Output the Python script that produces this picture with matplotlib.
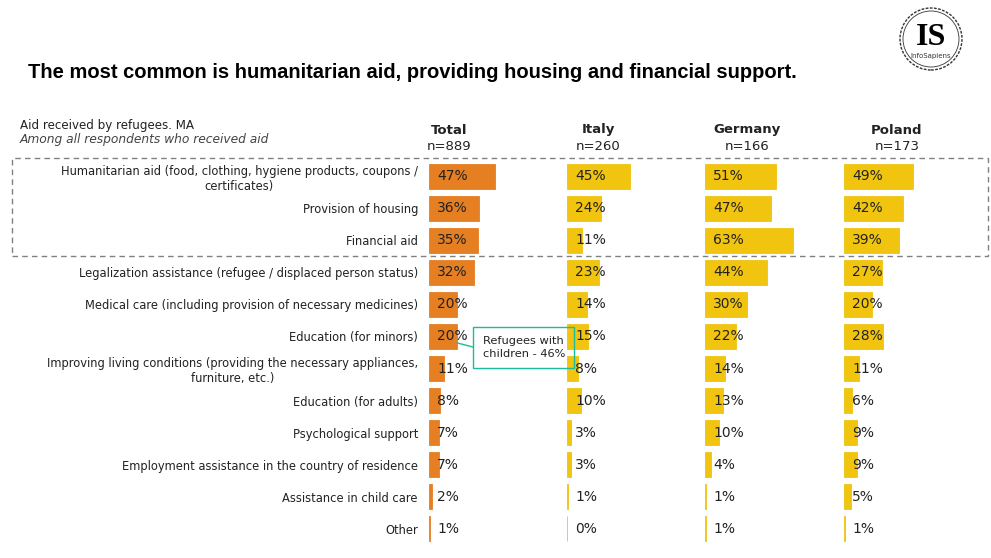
import matplotlib
matplotlib.use("Agg")
import matplotlib.pyplot as plt
from matplotlib.patches import Rectangle, Circle

categories = [
    "Humanitarian aid (food, clothing, hygiene products, coupons /\ncertificates)",
    "Provision of housing",
    "Financial aid",
    "Legalization assistance (refugee / displaced person status)",
    "Medical care (including provision of necessary medicines)",
    "Education (for minors)",
    "Improving living conditions (providing the necessary appliances,\nfurniture, etc.)",
    "Education (for adults)",
    "Psychological support",
    "Employment assistance in the country of residence",
    "Assistance in child care",
    "Other",
]
columns = ["Total", "Italy", "Germany", "Poland"]
sizes = ["n=889", "n=260", "n=166", "n=173"]
total = [47, 36, 35, 32, 20, 20, 11, 8, 7, 7, 2, 1]
italy = [45, 24, 11, 23, 14, 15, 8, 10, 3, 3, 1, 0]
germany = [51, 47, 63, 44, 30, 22, 14, 13, 10, 4, 1, 1]
poland = [49, 42, 39, 27, 20, 28, 11, 6, 9, 9, 5, 1]
series = [total, italy, germany, poland]

W, H = 991, 558
ORANGE = "#E67E22"
YELLOW = "#F1C40F"
TXT = "#222222"
TEAL = "#1ABC9C"

plt.rcParams["font.family"] = ["DejaVu Sans"]
fig = plt.figure(figsize=(W / 100, H / 100), dpi=100)

# column layout in pixels: bar start x, header center x
bar_left = [429, 567, 705, 844]
head_x = [449, 598, 747, 897]
xmax = 95  # 1.4 px per percent
top_px, bot_px = 160, 545

axes = []
for i, vals in enumerate(series):
    ax = fig.add_axes([bar_left[i] / W, 1 - bot_px / H, 1.4 * xmax / W, (bot_px - top_px) / H])
    color = ORANGE if i == 0 else YELLOW
    ax.barh(range(len(vals)), vals, height=0.78, color=color, edgecolor=color, linewidth=0.6)
    for j, v in enumerate(vals):
        ax.text(5.7, j, f"{v}%", va="center", ha="left", fontsize=10, color=TXT)
    ax.set_xlim(0, xmax)
    ax.set_ylim(len(vals) - 0.5, -0.5)
    for s in ax.spines.values():
        s.set_visible(False)
    ax.set_xticks([])
    ax.set_yticks([])
    ax.patch.set_alpha(0)
    axes.append(ax)
    fig.text(head_x[i] / W, 1 - 130 / H, columns[i], ha="center", va="center",
             fontsize=9.5, fontweight="bold", color=TXT)
    fig.text(head_x[i] / W, 1 - 146 / H, sizes[i], ha="center", va="center",
             fontsize=9.5, color=TXT)

ax0 = axes[0]
ax0.set_yticks(range(len(categories)))
ax0.set_yticklabels(categories, fontsize=8.3, color=TXT)
for lab in ax0.get_yticklabels():
    lab.set_multialignment("center")
ax0.tick_params(axis="y", length=0, pad=8)

# title and subtitle
fig.text(28 / W, 1 - 72 / H, "The most common is humanitarian aid, providing housing and financial support.",
         ha="left", va="center", fontsize=14.5, fontweight="bold", family="Liberation Sans", color="black")
fig.text(20 / W, 1 - 125 / H, "Aid received by refugees. MA", ha="left", va="center", fontsize=8.6, color=TXT)
fig.text(20 / W, 1 - 140 / H, "Among all respondents who received aid", ha="left", va="center",
         fontsize=8.8, style="italic", color="#444444")

# dashed highlight box around top three rows
fig.patches.append(Rectangle((12 / W, 1 - 256 / H), (988 - 12) / W, (256 - 158) / H,
                             transform=fig.transFigure, fill=False, edgecolor="#808080",
                             linestyle=(0, (4, 3)), linewidth=1))

# callout box and leader line
fig.patches.append(Rectangle((473 / W, 1 - 368 / H), (574 - 473) / W, (368 - 327) / H,
                             transform=fig.transFigure, fill=False, edgecolor=TEAL, linewidth=1))
fig.text(483 / W, 1 - 347.5 / H, "Refugees with\nchildren - 46%", ha="left", va="center",
         fontsize=8.2, color=TXT, linespacing=1.35)
ax0.annotate("", xy=(20, 5.2), xycoords="data", xytext=(473, H - 347), textcoords="figure pixels",
             arrowprops=dict(arrowstyle="-", color=TEAL, lw=1, shrinkA=0, shrinkB=0))

# logo
cx, cy = 9.31, (H - 39) / 100
fig.patches.append(Circle((cx, cy), 0.31, transform=fig.dpi_scale_trans, fill=False,
                          edgecolor="#333333", lw=1, linestyle=(0, (2, 1))))
fig.patches.append(Circle((cx, cy), 0.28, transform=fig.dpi_scale_trans, fill=False,
                          edgecolor="#333333", lw=0.6))
fig.text(cx / W * 100, 1 - 45 / H, "IS", ha="center", va="baseline", fontsize=23,
         family="Liberation Serif", fontweight="bold", color="black")
fig.text(cx / W * 100, 1 - 56 / H, "InfoSapiens", ha="center", va="center", fontsize=5, color="#333333")

fig.savefig("out.png", dpi=100)
